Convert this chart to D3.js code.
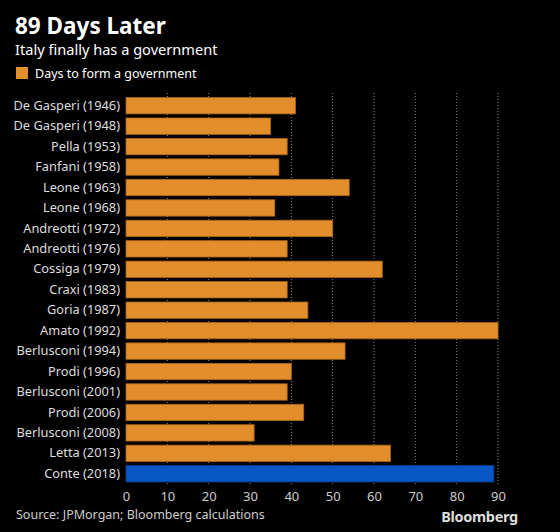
<!DOCTYPE html>
<html><head><meta charset="utf-8">
<script src="https://cdn.jsdelivr.net/npm/d3@7"></script>
<style>
html,body{margin:0;padding:0;background:#000;}
svg{display:block;}
text{font-family:"Noto Sans",sans-serif;}
</style></head>
<body>
<svg id="chart" width="560" height="532"></svg>
<script>
const categories = ["De Gasperi (1946)","De Gasperi (1948)","Pella (1953)","Fanfani (1958)","Leone (1963)","Leone (1968)","Andreotti (1972)","Andreotti (1976)","Cossiga (1979)","Craxi (1983)","Goria (1987)","Amato (1992)","Berlusconi (1994)","Prodi (1996)","Berlusconi (2001)","Prodi (2006)","Berlusconi (2008)","Letta (2013)","Conte (2018)"];
const days = [41,35,39,37,54,36,50,39,62,39,44,90,53,40,39,43,31,64,89];
const tickValues = [0,10,20,30,40,50,60,70,80,90];
const highlight = "Conte (2018)";

const svg = d3.select("#chart");
svg.append("rect").attr("width",560).attr("height",532).attr("fill","#000");

const x = d3.scaleLinear().domain([0,90]).range([126,498]);
const y = d3.scaleBand().domain(categories).range([95.5,484]).paddingInner(0.2).paddingOuter(0.1);

// title
svg.append("text").attr("x",15).attr("y",34).attr("fill","#fff")
  .style("font-size","22.5px").style("font-weight","bold").text("89 Days Later");
svg.append("text").attr("x",15).attr("y",55).attr("fill","#fff")
  .style("font-size","14.6px").text("Italy finally has a government");
// legend
svg.append("rect").attr("x",16).attr("y",67).attr("width",12).attr("height",12).attr("fill","#e38e2c");
svg.append("text").attr("x",35).attr("y",78).attr("fill","#fff")
  .style("font-size","12.5px").text("Days to form a government");

// gridlines
svg.append("g").selectAll("line").data(tickValues.filter(d=>d>0)).join("line")
  .attr("x1",d=>x(d)).attr("x2",d=>x(d)).attr("y1",93).attr("y2",484)
  .attr("stroke","#888").attr("stroke-width",1).attr("stroke-dasharray","1,2");

// bars
svg.append("g").selectAll("rect").data(categories).join("rect")
  .attr("x",x(0)).attr("y",d=>y(d))
  .attr("width",(d,i)=>x(days[i])-x(0)).attr("height",y.bandwidth())
  .attr("fill",d=>d===highlight?"#0756c4":"#e38e2c")
  .attr("stroke",d=>d===highlight?"#0a3f8f":"#a8641c").attr("stroke-width",0.8);

// y labels
const ya = svg.append("g").attr("transform",`translate(${x(0)},0)`)
  .call(d3.axisLeft(y).tickSize(0).tickPadding(6));
ya.select(".domain").remove();
ya.selectAll("text").attr("fill","#ddd").style("font-size","12.8px").style("font-family","'Noto Sans',sans-serif");

// x axis
const xa = svg.append("g").attr("transform","translate(0,484)")
  .call(d3.axisBottom(x).tickValues(tickValues).tickSize(0).tickPadding(8));
xa.select(".domain").remove();
xa.selectAll("text").attr("fill","#ccc").style("font-size","13px").style("font-family","'Noto Sans',sans-serif");

// footer
svg.append("text").attr("x",16).attr("y",519).attr("fill","#ccc")
  .style("font-size","12.5px").text("Source: JPMorgan; Bloomberg calculations");
svg.append("text").attr("x",518).attr("y",522).attr("text-anchor","end").attr("fill","#ddd")
  .style("font-size","14.5px").style("font-weight","bold").style("letter-spacing","-0.3px").text("Bloomberg");
</script>
</body></html>
